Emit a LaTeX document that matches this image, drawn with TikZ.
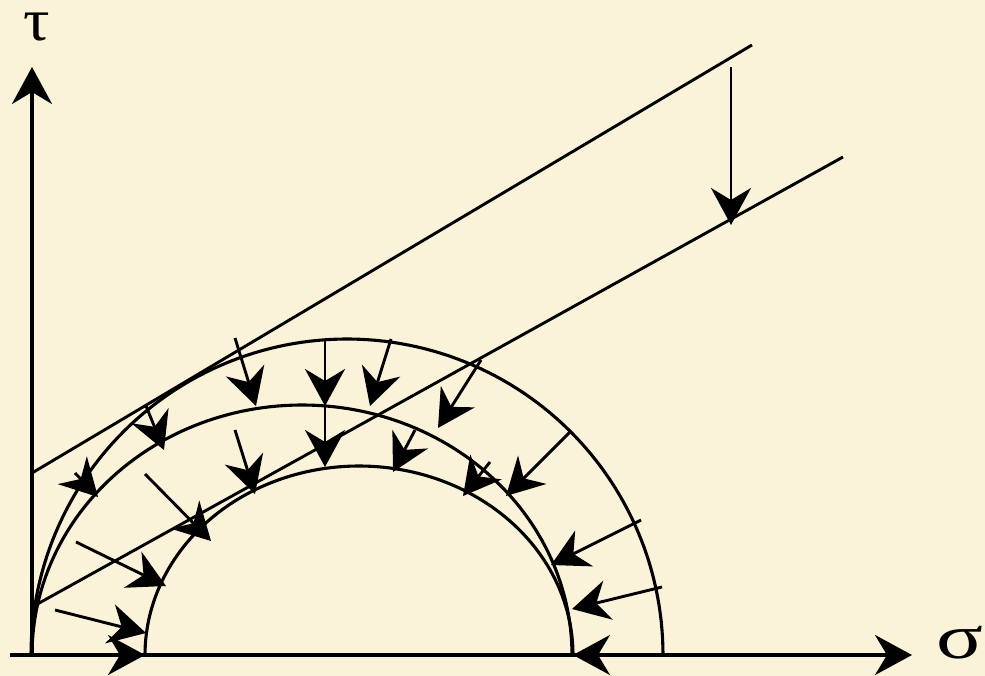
\documentclass[tikz,border=0pt]{standalone}
\usepackage{fontspec}
\setmainfont{Liberation Serif}
\usetikzlibrary{arrows.meta}
\definecolor{parch}{RGB}{251,242,218}
\begin{document}
\begin{tikzpicture}[x=1pt,y=-1pt,
  curve/.style={line width=3.1pt,line join=round},
  lineT/.style={line width=2.9pt},
  force/.style={line width=2.9pt,-{Stealth[length=37pt,width=40pt,inset=12pt]}},
  axis/.style={line width=3.4pt,-{Stealth[length=37pt,width=40pt,inset=12pt]}},
  lab/.style={font=\fontsize{60}{62}\selectfont,inner sep=0pt}]
\fill[parch] (0,0) rectangle (985,676);
\useasboundingbox (0,0) rectangle (985,676);
% axes
\coordinate (O) at (32,655);
\coordinate (Ytip) at (32,67);
\coordinate (Xstart) at (10,655);
\coordinate (Xtip) at (912,655);
\draw[axis] (O) -- (Ytip);
\draw[axis] (Xstart) -- (Xtip);
\node[lab] (tau) at (37,27) {\scalebox{1.1}[1]{τ}};
\node[lab] (sigma) at (960,643) {\scalebox{1.45}[1.05]{σ}};
% semicircles
\draw[curve] plot[domain=0:180,samples=120] ({347+316*cos(\x)},{655-316*sin(\x)});
\draw[curve] plot[domain=0:180,samples=120] ({302+270*cos(\x)},{655-250*sin(\x)});
\draw[curve] plot[domain=0:180,samples=120] ({359+214*cos(\x)},{655-189*sin(\x)});
% envelope lines
\coordinate (U1) at (32,473);
\coordinate (U2) at (752,45);
\coordinate (L1) at (32,607);
\coordinate (L2) at (843,157);
\draw[lineT] (U1) -- (U2);
\draw[lineT] (L1) -- (L2);
% force arrows
\foreach \i/\sx/\sy/\tx/\ty in {
  1/235/338/256/406,
  2/325/339/325/406,
  3/391/339/370/406,
  4/481/360/438/428,
  5/146/406/164/450,
  6/235/430/255/494,
  7/325/406/325/467,
  8/415/430/393/472,
  9/490/462/463/496,
  10/571/431/506/496,
  11/641/520/551/565,
  12/662/587/572/609,
  13/663/655/573/655,
  14/75/473/98/497,
  15/145/474/211/541,
  16/76/542/166/586,
  17/55/610/146/633,
  18/32/655/145/655,
  19/731/67/731/225}{
  \coordinate (s\i) at (\sx,\sy);
  \coordinate (t\i) at (\tx,\ty);
  \draw[force] (s\i) -- (t\i);
}
\end{tikzpicture}
\end{document}
